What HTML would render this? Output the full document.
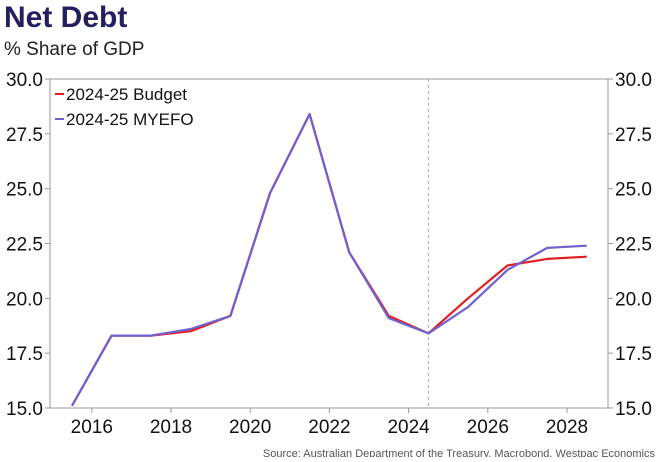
<!DOCTYPE html>
<html><head><meta charset="utf-8"><style>
body{margin:0;background:#fff;width:660px;height:457px;overflow:hidden;font-family:"Liberation Sans",sans-serif}
svg text{font-family:"Liberation Sans",sans-serif}
</style></head><body>
<svg id="c" width="660" height="457">
<text x="4" y="27" font-family="Liberation Sans Narrow" font-weight="bold" font-size="30" fill="#22205e">Net Debt</text>
<text x="4" y="55" font-size="19" fill="#222">% Share of GDP</text>
<rect x="50" y="79" width="558" height="329" fill="none" stroke="#999" stroke-width="1"/>
<g id="ax"></g>
<g id="lines"></g>
<g>
<line x1="55" y1="94" x2="64" y2="94" stroke="#e02020" stroke-width="2"/>
<text x="66" y="100" font-size="17" fill="#111">2024-25 Budget</text>
<line x1="55" y1="119" x2="64" y2="119" stroke="#7060d0" stroke-width="2"/>
<text x="66" y="125" font-size="17" fill="#111">2024-25 MYEFO</text>
</g>
<text x="655" y="457" text-anchor="end" font-size="11" fill="#555">Source: Australian Department of the Treasury, Macrobond, Westpac Economics</text>
</svg>
<script>
const years=[2015.5,2016.5,2017.5,2018.5,2019.5,2020.5,2021.5,2022.5,2023.5,2024.5,2025.5,2026.5,2027.5,2028.5];
const budget=[15.1,18.3,18.3,18.5,19.2,24.8,28.4,22.1,19.2,18.4,20.0,21.5,21.8,21.9];
const myefo=[15.1,18.3,18.3,18.6,19.2,24.8,28.4,22.1,19.1,18.4,19.6,21.3,22.3,22.4];
const yTicks=[15,17.5,20,22.5,25,27.5,30];
const xTicks=[2016,2018,2020,2022,2024,2026,2028];
const divider=2024.5;
const X=v=>91.8+(v-2016)*39.6, Y=v=>408-(v-15)/15*329;
const NS="http://www.w3.org/2000/svg";
const ax=document.getElementById('ax'), lg=document.getElementById('lines');
function mk(tag,attrs,parent){const e=document.createElementNS(NS,tag);for(const k in attrs)e.setAttribute(k,attrs[k]);parent.appendChild(e);return e;}
yTicks.forEach(t=>{
 const y=Y(t);
 let a=mk('line',{x1:45,x2:50,y1:y,y2:y,stroke:'#999'},ax);
 
 
 let b=mk('line',{x1:608,x2:613,y1:y,y2:y,stroke:'#999'},ax);
 
 
 let l=mk('text',{x:43,y:y+7,'text-anchor':'end','font-size':19,fill:'#111'},ax);l.textContent=t.toFixed(1);
 
 
 let r=mk('text',{x:615,y:y+7,'font-size':19,fill:'#111'},ax);r.textContent=t.toFixed(1);
 
 
});
xTicks.forEach(t=>{
 const x=X(t);
 let a=mk('line',{x1:x,x2:x,y1:408,y2:413,stroke:'#999'},ax);
 
 
 let l=mk('text',{x:x,y:433,'text-anchor':'middle','font-size':19,fill:'#111'},ax);l.textContent=t;
 
 
});
let d=mk('line',{x1:X(divider),x2:X(divider),y1:79,y2:408,stroke:'#aaa','stroke-dasharray':'3,3'},ax);


function pts(s){return years.map((y,i)=>X(y).toFixed(1)+','+Y(s[i]).toFixed(1)).join(' ');}
let pb=mk('polyline',{points:pts(budget),fill:'none',stroke:'#e02020','stroke-width':2.2,'stroke-linejoin':'round'},lg);


let pm=mk('polyline',{points:pts(myefo),fill:'none',stroke:'#7060d0','stroke-width':2.2,'stroke-linejoin':'round'},lg);


</script>
</body></html>
